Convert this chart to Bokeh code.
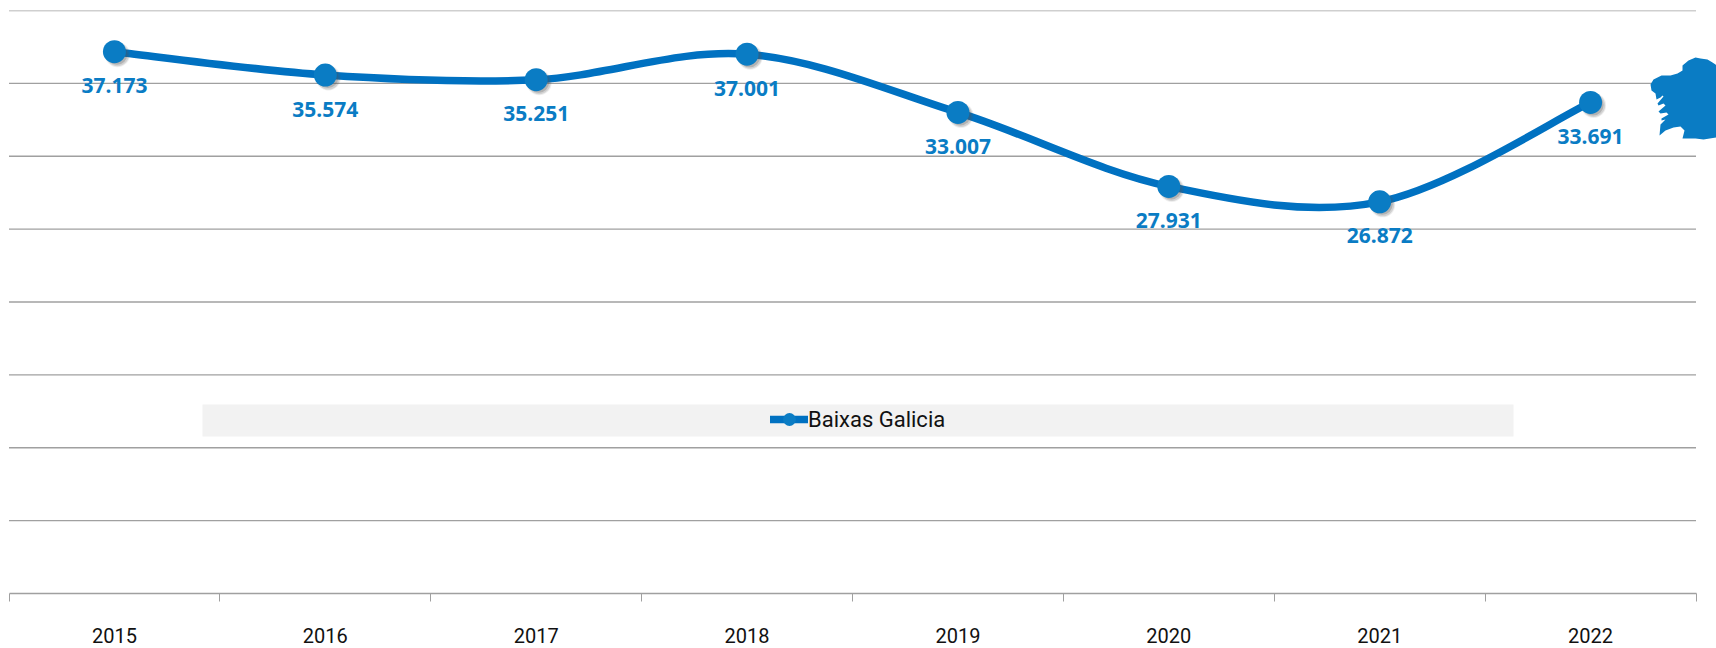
from bokeh.plotting import figure
from bokeh.models import (Range1d, FixedTicker, LinearAxis, Legend, LegendItem,
                          BoxAnnotation, PolyAnnotation, ColumnDataSource)
from bokeh.core.properties import value
from bokeh.embed import file_html
from bokeh.resources import INLINE

years = ["2015", "2016", "2017", "2018", "2019", "2020", "2021", "2022"]
visits = [37173, 35574, 35251, 37001, 33007, 27931, 26872, 33691]
labels = ["37.173", "35.574", "35.251", "37.001", "33.007", "27.931", "26.872", "33.691"]
series_name = "Baixas Galicia"
y_ticks = [5000, 10000, 15000, 20000, 25000, 30000, 35000, 40000]

# Silhouette of Galicia, page pixels
map_x = [1650, 1651, 1655, 1656, 1660, 1662, 1663, 1657, 1658, 1663, 1665, 1658, 1660, 1666,
         1668, 1661, 1661, 1665, 1660, 1659, 1665, 1673, 1680, 1684, 1682, 1695, 1703, 1716,
         1716, 1715, 1712, 1707, 1700, 1695, 1688, 1682, 1682, 1677, 1670, 1661, 1653]
map_y = [84, 90, 93, 99, 97, 95, 96, 103, 105, 103, 105, 111, 113, 112,
         114, 118, 120, 119, 124, 135, 130, 127, 126, 130, 138, 138, 139, 137,
         65, 64, 62, 59, 58, 57, 60, 65, 70, 73, 75, 75, 79]

LINE = "#0071c1"
MARK = "#0a7cc4"
GRID = "#a0a0a0"

W, H = 1716, 648
PLOT_LEFT, PLOT_RIGHT, T, BOTTOM = 8.5, 1695.5, 10, 593
n_cat = len(years)
px_x = n_cat / (PLOT_RIGHT - PLOT_LEFT)
px_y = 40000 / (BOTTOM - T)

p = figure(width=W, height=H, output_backend="svg", toolbar_location=None,
           x_range=Range1d(-PLOT_LEFT * px_x, (W - PLOT_LEFT) * px_x), y_range=Range1d(0, 40000),
           x_axis_location=None, y_axis_location=None,
           min_border_left=0, min_border_right=0, min_border_top=T, min_border_bottom=H - BOTTOM,
           outline_line_color=None, background_fill_color="white")
p.grid.visible = False

xs = [i + 0.5 for i in range(n_cat)]

# x axis: labels at category centres, ticks on category boundaries
axis = LinearAxis(ticker=FixedTicker(ticks=xs, minor_ticks=list(range(n_cat + 1))),
                  bounds=(0, n_cat),
                  major_label_overrides={x: y for x, y in zip(xs, years)},
                  major_tick_line_color=None, major_tick_out=0, major_tick_in=0,
                  minor_tick_line_color=GRID, minor_tick_out=8, minor_tick_in=0,
                  axis_line_color=GRID, axis_line_width=1.4,
                  major_label_standoff=26, major_label_text_color="#111111",
                  major_label_text_font="Roboto", major_label_text_font_size="20px")
p.add_layout(axis, "below")

# horizontal gridlines across the category span
p.segment(x0=[0] * len(y_ticks), x1=[n_cat] * len(y_ticks), y0=y_ticks, y1=y_ticks,
          line_color=GRID, line_width=1.4, level="underlay")

# legend band
p.add_layout(BoxAnnotation(left=202, right=1513, top=BOTTOM - 404, bottom=BOTTOM - 436,
                           left_units="screen", right_units="screen",
                           top_units="screen", bottom_units="screen",
                           fill_color="#f2f2f2", fill_alpha=1, line_color=None,
                           level="underlay"))

# smooth curve: one bezier per segment, control points from neighbouring values
n = len(visits)
x0, y0, x1, y1, cx0, cy0, cx1, cy1 = [], [], [], [], [], [], [], []
for i in range(n - 1):
    a, b = max(i - 1, 0), min(i + 2, n - 1)
    x0.append(xs[i]); y0.append(visits[i])
    x1.append(xs[i + 1]); y1.append(visits[i + 1])
    cx0.append(xs[i] + (xs[i + 1] - xs[a]) / 6); cy0.append(visits[i] + (visits[i + 1] - visits[a]) / 6)
    cx1.append(xs[i + 1] - (xs[b] - xs[i]) / 6); cy1.append(visits[i + 1] - (visits[b] - visits[i]) / 6)
p.bezier(x0=x0, y0=y0, x1=x1, y1=y1, cx0=cx0, cy0=cy0, cx1=cx1, cy1=cy1,
         line_color=LINE, line_width=7.5, line_cap="round")

# legend key line (not drawn on the plot itself)
key_line = p.line(xs, visits, line_color=LINE, line_width=7.5, line_cap="round", visible=False)

# marker shadow
for off, size, alpha in [(3.0, 25, 0.10), (3.0, 23, 0.18), (2.5, 21, 0.25)]:
    p.scatter([x + off * px_x for x in xs], [v - off * px_y for v in visits],
              size=size, fill_color="#555555", fill_alpha=alpha, line_color=None)

marks = p.scatter(xs, visits, size=23, fill_color=MARK, line_color=None)

src = ColumnDataSource(dict(x=xs, y=visits, t=labels))
p.text("x", "y", text="t", source=src, x_offset=0, y_offset=34,
       text_align="center", text_baseline="middle", text_color=MARK,
       text_font=value("Noto Sans"), text_font_style="bold", text_font_size="21px")

legend = Legend(items=[LegendItem(label=series_name, renderers=[key_line, marks])],
                location=(770, 158), orientation="horizontal",
                background_fill_alpha=0, border_line_color=None, margin=0, padding=0,
                glyph_width=38, glyph_height=32, label_standoff=0, spacing=0,
                label_text_font="Roboto", label_text_font_size="22px",
                label_text_color="#111111", label_text_baseline="middle")
p.add_layout(legend, "center")

# map silhouette
p.add_layout(PolyAnnotation(xs=map_x, ys=[BOTTOM - v for v in map_y],
                            xs_units="screen", ys_units="screen",
                            fill_color=MARK, fill_alpha=1, line_color=None))

open("out.html", "w").write(file_html(p, INLINE))
